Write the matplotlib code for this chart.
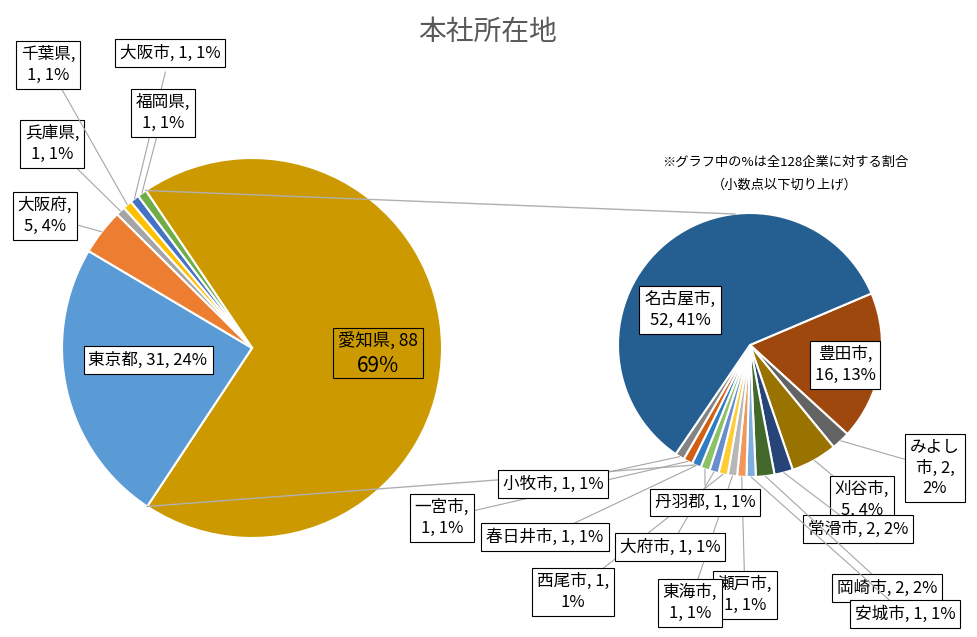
import numpy as np
import matplotlib.pyplot as plt

plt.rcParams['font.family'] = 'Noto Sans CJK JP'

# main pie: prefectures (total 128 companies)
pref_names = ['愛知県', '東京都', '大阪府', '兵庫県', '千葉県', '大阪市', '福岡県']
pref_counts = [88, 31, 5, 1, 1, 1, 1]
pref_pcts = [69, 24, 4, 1, 1, 1, 1]
pref_colors = ['#cc9a00', '#5b9bd5', '#ed7d31', '#a5a5a5', '#ffc000', '#4472c4', '#70ad47']

# sub pie: cities in Aichi
city_names = ['豊田市', 'みよし市', '刈谷市', '常滑市', '岡崎市', '安城市', '瀬戸市', '東海市',
              '西尾市', '大府市', '丹羽郡', '春日井市', '一宮市', '小牧市', '名古屋市']
city_counts = [16, 2, 5, 2, 2, 1, 1, 1, 1, 1, 1, 1, 1, 1, 52]
city_pcts = [13, 2, 4, 2, 2, 1, 1, 1, 1, 1, 1, 1, 1, 1, 41]
city_colors = ['#9e480e', '#636363', '#997300', '#264478', '#43682b', '#7cafdd', '#f1975a',
               '#b7b7b7', '#ffcd33', '#698ed0', '#8cc168', '#327dc2', '#d26012', '#848484', '#255e91']

H = 637
fig = plt.figure(figsize=(9.77, 6.37), dpi=100)
ax = fig.add_axes([0, 0, 1, 1])
ax.axis('off')

lc, lr = (252, H - 348), 190
rc, rr = (750, H - 345), 132
ax.pie(pref_counts, colors=pref_colors, startangle=124, counterclock=False, center=lc, radius=lr,
       wedgeprops=dict(edgecolor='white', linewidth=1.5))
ax.pie(city_counts, colors=city_colors, startangle=23, counterclock=False, center=rc, radius=rr,
       wedgeprops=dict(edgecolor='white', linewidth=1.5))
ax.set_xlim(0, 977)
ax.set_ylim(0, H)
ax.set_aspect('equal')

# connector lines between the pies
a1, a2 = np.radians(124), np.radians(124 - 88 / 128 * 360)
ax.plot([lc[0] + lr * np.cos(a1), rc[0] - 15], [lc[1] + lr * np.sin(a1), rc[1] + rr - 1], color='#b0b0b0', lw=1)
ax.plot([lc[0] + lr * np.cos(a2), rc[0] - 55], [lc[1] + lr * np.sin(a2), rc[1] - rr + 12], color='#b0b0b0', lw=1)

box = dict(boxstyle='square,pad=0.3', fc='white', ec='black', lw=0.8)

def mid_edge(center, radius, counts, start, i):
    cum = sum(counts[:i]) + counts[i] / 2
    ang = np.radians(start - cum / sum(counts) * 360)
    return center[0] + radius * np.cos(ang), center[1] + radius * np.sin(ang)

# label positions in pixel coords (x, y from top)
pref_pos = [(378, 353), (148, 360), (45, 216), (52, 144), (48, 65), (170, 53), (163, 113)]
pref_text = [None, None, '大阪府,\n5, 4%', '兵庫県,\n1, 1%', '千葉県,\n1, 1%', None, '福岡県,\n1, 1%']
for i, (x, y) in enumerate(pref_pos):
    t = pref_text[i] or f'{pref_names[i]}, {pref_counts[i]}, {pref_pcts[i]}%'
    if i == 0:
        ax.text(x, H - y, f'{pref_names[0]}, {pref_counts[0]}\n ', fontsize=12.5, ha='center',
                va='center', bbox=dict(boxstyle='square,pad=0.3', fc='none', ec='black', lw=0.8), linespacing=1.3)
        ax.text(x, H - y - 13, f'{pref_pcts[0]}%', fontsize=15, ha='center', va='center')
        continue
    if i >= 2:
        ex, ey = mid_edge(lc, lr, pref_counts, 124, i)
        ax.annotate('', xy=(ex, ey), xytext=(x, H - y),
                    arrowprops=dict(arrowstyle='-', color='#a6a6a6', lw=0.8, shrinkA=14, shrinkB=0))
    ax.text(x, H - y, t, fontsize=12, ha='center', va='center', bbox=box, linespacing=1.3)

city_pos = [(845, 365), (935, 468), (862, 500), (858, 529), (887, 588), (905, 614), (745, 595),
            (690, 603), (573, 592), (670, 547), (705, 502), (545, 537), (442, 518), (553, 484), (680, 310)]
city_text = ['豊田市,\n16, 13%', 'みよし\n市, 2,\n2%', '刈谷市,\n5, 4%', None, None, None, '瀬戸市,\n1, 1%',
             '東海市,\n1, 1%', '西尾市, 1,\n1%', None, None, None, '一宮市,\n1, 1%', None, '名古屋市,\n52, 41%']
for i, (x, y) in enumerate(city_pos):
    t = city_text[i] or f'{city_names[i]}, {city_counts[i]}, {city_pcts[i]}%'
    if 1 <= i <= 13:
        ex, ey = mid_edge(rc, rr, city_counts, 23, i)
        ax.annotate('', xy=(ex, ey), xytext=(x, H - y),
                    arrowprops=dict(arrowstyle='-', color='#a6a6a6', lw=0.8, shrinkA=12, shrinkB=0))
    ax.text(x, H - y, t, fontsize=12, ha='center', va='center', bbox=box, linespacing=1.3)

ax.text(488, H - 32, '本社所在地', fontsize=20, color='#595959', ha='center', va='center')
ax.text(785, H - 162, '※グラフ中の%は全128企業に対する割合', fontsize=9.5, ha='center', va='center')
ax.text(785, H - 185, '（小数点以下切り上げ）', fontsize=9.5, ha='center', va='center')

fig.savefig('out.png', dpi=100)
